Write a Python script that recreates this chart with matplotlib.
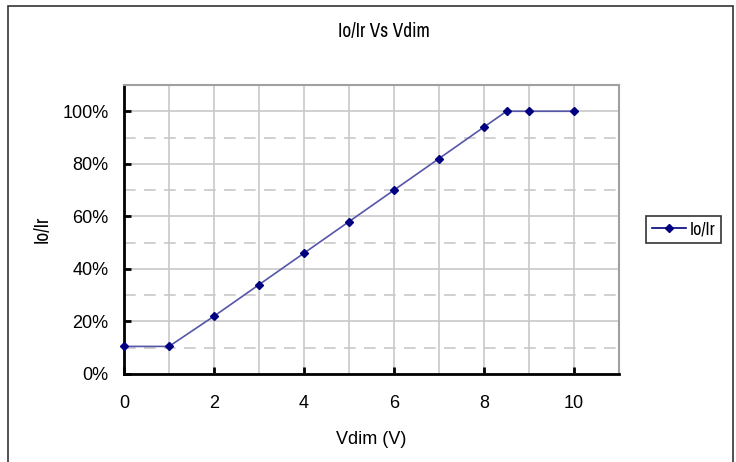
import matplotlib
matplotlib.use("Agg")
import matplotlib.pyplot as plt
from matplotlib.patches import Rectangle
from matplotlib.ticker import MultipleLocator, PercentFormatter

# data
vdim = [0, 1, 2, 3, 4, 5, 6, 7, 8, 8.5, 9, 10]
io_ir = [0.105, 0.105, 0.22, 0.34, 0.46, 0.58, 0.70, 0.82, 0.94, 1.0, 1.0, 1.0]
x_ticks = [0, 2, 4, 6, 8, 10]
y_ticks = [0, 0.2, 0.4, 0.6, 0.8, 1.0]

plt.rcParams['font.family'] = ['Liberation Sans', 'DejaVu Sans']
narrow = ['Archivo Narrow', 'PT Sans Narrow', 'Liberation Sans']

fig = plt.figure(figsize=(7.36, 4.62), dpi=100)

# outer chart frame
fig.patches.append(Rectangle((8 / 736, -0.01), 725 / 736, 1 - 6 / 462 + 0.01,
                             transform=fig.transFigure, fill=False,
                             edgecolor='#333333', linewidth=1.2))

ax = fig.add_axes([124 / 736, 88 / 462, 495 / 736, 289 / 462])

# grid: solid at majors, dashed at 10% steps in between
ax.set_xlim(0, 11)
ax.set_ylim(0, 1.1)
ax.xaxis.set_minor_locator(MultipleLocator(1))
ax.yaxis.set_minor_locator(MultipleLocator(0.1))
ax.set_xticks(x_ticks)
ax.set_yticks(y_ticks)
ax.yaxis.set_major_formatter(PercentFormatter(1.0, decimals=0))

ax.grid(True, which='major', axis='both', color='#c8c8c8', linewidth=1.2)
ax.grid(True, which='minor', axis='x', color='#c8c8c8', linewidth=1.2)
for y in [0.1, 0.3, 0.5, 0.7, 0.9]:
    ax.axhline(y, color='#c8c8c8', linewidth=1.2, linestyle=(0, (7, 5)), zorder=0.5)
ax.set_axisbelow(True)

ax.plot(vdim, io_ir, color='#5555aa', linewidth=1.2, marker='D', markersize=4.5,
        markerfacecolor='#000080', markeredgecolor='#000080', label='Io/Ir', clip_on=False, zorder=3)

for side in ['left', 'bottom']:
    ax.spines[side].set_color('black')
    ax.spines[side].set_linewidth(2)
for side in ['top', 'right']:
    ax.spines[side].set_color('#a0a0a0')
    ax.spines[side].set_linewidth(1.5)

ax.tick_params(which='major', direction='in', length=5, width=2, labelsize=13)
ax.tick_params(which='minor', length=0)
ax.tick_params(axis='x', pad=15)
ax.tick_params(axis='y', pad=11)

ax.set_xlabel('Vdim (V)', fontsize=13, labelpad=14)
ax.set_ylabel('Io/Ir', fontsize=14, labelpad=8, family=narrow)

fig.text(384 / 736, 1 - 32 / 462, 'Io/Ir Vs Vdim', ha='center', va='center', fontsize=14,
         family=narrow)

leg = ax.legend(loc='center left', bbox_to_anchor=(1.055, 0.5), frameon=True, fancybox=False,
                edgecolor='black', handlelength=1.9, borderpad=0.3,
                handletextpad=0.2, borderaxespad=0, prop={'family': narrow, 'size': 13})
leg.get_frame().set_linewidth(1.2)
leg.legend_handles[0].set_color('#000080')

fig.savefig('out.png', dpi=100)
